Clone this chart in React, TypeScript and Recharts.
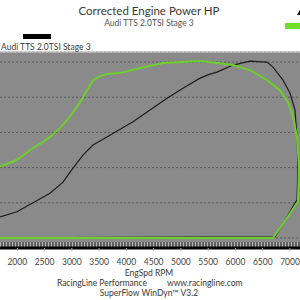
import { LineChart, Line, XAxis, YAxis, CartesianGrid, ReferenceLine } from "recharts";

// green run: rpm / hp, forward pull then rundown back along zero
const greenRpm = [1683, 1989, 2288, 2416, 2600, 2783, 2966, 3150, 3278, 3388, 3516, 3645, 3883, 4250, 4671, 5350, 5661, 5955, 6266, 6578, 6816, 6963, 7055, 7128, 7165, 7146, 6688, 1683];
const greenHp = [142, 155, 179, 187, 201, 219, 241, 270, 294, 314, 322, 326, 328, 338, 348, 352, 348, 344, 334, 314, 294, 270, 241, 201, 141, 72, 0, 0];

const blackRpm = [1683, 1995, 2288, 2600, 2838, 3021, 3205, 3388, 3516, 4121, 4745, 5038, 5350, 5533, 5661, 5955, 6266, 6578, 6688, 6871, 7000, 7091, 7128, 7146, 7128, 6725, 1683];
const blackHp = [42, 52, 70, 89, 111, 139, 165, 185, 193, 231, 278, 298, 318, 326, 330, 344, 352, 350, 340, 314, 288, 255, 201, 141, 76, 2, 0];

const rpmTicks = [2000, 2500, 3000, 3500, 4000, 4500, 5000, 5500, 6000, 6500, 7000];
const hpTicks = [0, 70, 140, 210, 280, 350];

const title = "Corrected Engine Power HP";
const subtitle = "Audi TTS 2.0TSI Stage 3";
const seriesName = "Audi TTS 2.0TSI Stage 3";
const xLabel = "EngSpd RPM";
const footerLeft = "RacingLine Performance";
const footerRight = "www.racingline.com";
const footer2 = "SuperFlow WinDyn\u2122 V3.2";

const greenData = greenRpm.map((rpm, i) => ({ rpm, hp: greenHp[i] }));
const blackData = blackRpm.map((rpm, i) => ({ rpm, hp: blackHp[i] }));

const font = "Lato, 'Open Sans', sans-serif";
const txt: React.CSSProperties = { position: "absolute", whiteSpace: "nowrap", fontFamily: font, color: "#3a3a3a", lineHeight: 1 };

export default function App() {
  return (
    <div style={{ position: "absolute", left: 0, top: 0, width: 300, height: 300, background: "#fff", overflow: "hidden" }}>
      <LineChart width={300} height={300} margin={{ top: 52, right: 0, bottom: 22, left: 0 }}>
        <CartesianGrid vertical={false} fill="#8a8a8a" stroke="#585858" strokeDasharray="2 2" />
        <XAxis
          type="number"
          dataKey="rpm"
          domain={[1683, 7183]}
          allowDataOverflow
          ticks={rpmTicks}
          axisLine={{ stroke: "#000", strokeWidth: 3 }}
          tickLine={{ stroke: "#aaa" }}
          tickSize={3}
          tickMargin={8}
          tick={{ fill: "#444", fontSize: 8.5, fontFamily: font }}
        />
        <YAxis type="number" dataKey="hp" domain={[-20, 370]} allowDataOverflow ticks={hpTicks} hide />
        <ReferenceLine y={370} stroke="#c4c4c4" strokeWidth={1.5} />
        <ReferenceLine y={-12.9} stroke="#5e5e5e" strokeWidth={5} />
        <ReferenceLine y={-12.9} stroke="#b8b8b8" strokeWidth={5} strokeDasharray="1 2" />
        <Line data={blackData} dataKey="hp" type="linear" stroke="#1e1e1e" strokeWidth={1.2} dot={false} isAnimationActive={false} />
        <Line data={greenData} dataKey="hp" type="linear" stroke="#6fcf2a" strokeWidth={2} dot={false} isAnimationActive={false} />
      </LineChart>

      <div style={{ ...txt, left: 0, width: 298, top: 5, textAlign: "center", fontSize: 11.5 }}>{title}</div>
      <div style={{ ...txt, left: 0, width: 298, top: 19, textAlign: "center", fontSize: 8.5, color: "#555" }}>{subtitle}</div>

      <div style={{ position: "absolute", left: 23, top: 34, width: 28, height: 5, background: "#000" }} />
      <div style={{ ...txt, left: 1, top: 43, fontSize: 8.5 }}>{seriesName}</div>

      <svg style={{ position: "absolute", left: 296, top: 10 }} width={6} height={6}>
        <polygon points="1,5 4,0 7,5" fill="#000" />
      </svg>
      <div style={{ position: "absolute", left: 285, top: 23, width: 28, height: 6, background: "#6fe02a" }} />

      <div style={{ ...txt, left: 0, width: 298, top: 269, textAlign: "center", fontSize: 8.5 }}>{xLabel}</div>
      <div style={{ ...txt, right: 153, top: 279, fontSize: 8.5 }}>{footerLeft}</div>
      <div style={{ ...txt, left: 167, top: 279, fontSize: 8.5 }}>{footerRight}</div>
      <div style={{ ...txt, left: 0, width: 298, top: 289, textAlign: "center", fontSize: 8.5 }}>{footer2}</div>
    </div>
  );
}
